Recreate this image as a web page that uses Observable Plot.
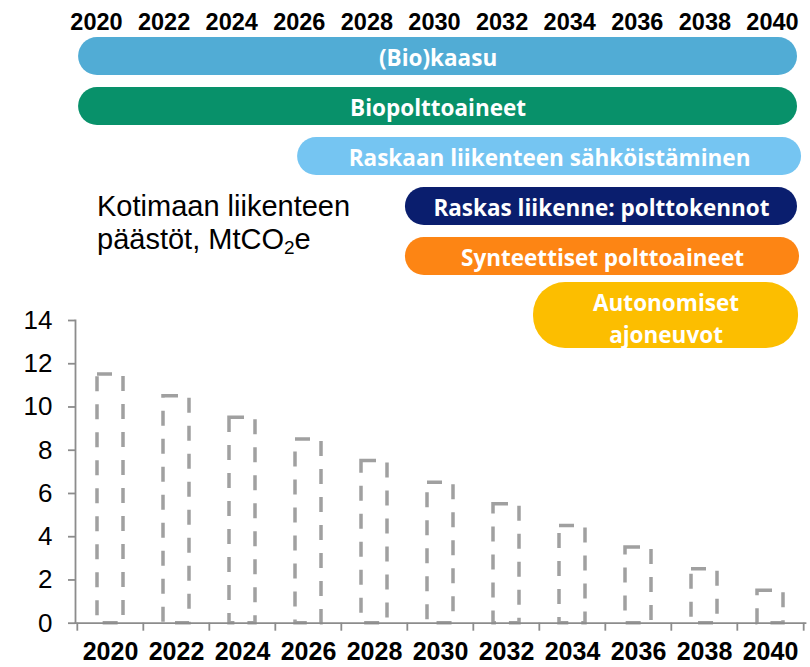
<!DOCTYPE html>
<html>
<head>
<meta charset="utf-8">
<script src="https://cdn.jsdelivr.net/npm/d3@7"></script>
<script src="https://cdn.jsdelivr.net/npm/@observablehq/plot@0.6"></script>
<style>
  html, body { margin: 0; padding: 0; background: #fff; }
  #wrap { position: relative; width: 810px; height: 667px; overflow: hidden; background: #fff;
          font-family: "Liberation Sans", Arial, sans-serif; }
  #wrap svg { position: absolute; left: 0; top: 0; }
  #title { position: absolute; left: 97px; top: 190px; font-size: 29px; line-height: 33px; color: #000;
           font-family: "Liberation Sans", Arial, sans-serif; white-space: nowrap; }
  #title sub { font-size: 19px; line-height: 0; vertical-align: -5px; }
</style>
</head>
<body>
<div id="wrap"><div id="title">Kotimaan liikenteen<br>päästöt, MtCO<sub>2</sub>e</div></div>
<script>
// ---- data ----
const years = [2020, 2022, 2024, 2026, 2028, 2030, 2032, 2034, 2036, 2038, 2040];
const emissions = [11.5, 10.5, 9.5, 8.5, 7.5, 6.5, 5.5, 4.5, 3.5, 2.5, 1.5];
const yTicks = [0, 2, 4, 6, 8, 10, 12, 14];
const topYears = [2020, 2022, 2024, 2026, 2028, 2030, 2032, 2034, 2036, 2038, 2040];

const pillNames = ["(Bio)kaasu", "Biopolttoaineet", "Raskaan liikenteen sähköistäminen",
  "Raskas liikenne: polttokennot", "Synteettiset polttoaineet", "Autonomiset ajoneuvot"];
const pillLabels = ["(Bio)kaasu", "Biopolttoaineet", "Raskaan liikenteen sähköistäminen",
  "Raskas liikenne: polttokennot", "Synteettiset polttoaineet", "Autonomiset\najoneuvot"];
const pillStart = [2019.47, 2019.47, 2025.95, 2029.14, 2029.14, 2032.93];
const pillEnd = [2040.74, 2040.74, 2040.86, 2040.74, 2040.8, 2040.77];
const pillColors = ["#51acd5", "#08916a", "#75c5f2", "#0a1e6e", "#fd8514", "#fcbe00"];

// ---- derived tables ----
const bars = years.map((year, i) => ({year, value: emissions[i]}));
const pills = pillNames.map((name, i) => ({name, label: pillLabels[i], start: pillStart[i], end: pillEnd[i]}));
const tallName = "Autonomiset ajoneuvot";
const pillsSingle = pills.filter(d => d.name !== tallName);
const pillsTall = pills.filter(d => d.name === tallName);

const wrap = document.getElementById("wrap");
const grey = "#8c8c8c";
const sans = "'Liberation Sans', Arial, sans-serif";
const pillFont = "'Open Sans', sans-serif";

// ---- bottom chart: emissions ----
const W = 810, H = 667, mL = 75, mR = 5;
const step = (W - mL - mR) / years.length;

const emissionsChart = Plot.plot({
  width: W, height: H,
  marginTop: 320, marginBottom: 44.3, marginLeft: mL, marginRight: mR,
  style: {background: "none", overflow: "visible"},
  x: {type: "band", domain: years, paddingInner: 0.6, paddingOuter: 0.3},
  y: {domain: [0, 14]},
  marks: [
    Plot.barY(bars, {x: "year", y: "value", fill: "none", stroke: "#a0a0a0",
      strokeWidth: 3.5, strokeDasharray: "15,13"}),
    Plot.frame({anchor: "left", stroke: grey, strokeWidth: 1.8}),
    Plot.frame({anchor: "bottom", stroke: grey, strokeWidth: 1.8}),
    Plot.axisY({ticks: yTicks, tickSize: 7, tickPadding: 16, stroke: grey, strokeWidth: 1.8,
      fill: "black", fontSize: 26, fontFamily: sans, tickFormat: d => String(d), label: null}),
    Plot.axisX({tickSize: 0, tickPadding: 19, fill: "black", fontSize: 25, fontWeight: "bold",
      fontFamily: sans, tickFormat: d => String(d), label: null}),
    Plot.axisX({tickSize: 8, dx: -step / 2, stroke: grey, strokeWidth: 1.8, tickFormat: () => "", label: null}),
    Plot.axisX({ticks: [years[years.length - 1]], tickSize: 8, dx: step / 2, stroke: grey, strokeWidth: 1.8,
      tickFormat: () => "", label: null})
  ]
});
wrap.appendChild(emissionsChart);

// ---- top chart: technology timeline ----
const timelineChart = Plot.plot({
  width: W, height: 352, margin: 0,
  style: {background: "none", overflow: "visible"},
  x: {domain: [2020, 2040], range: [96, 772], axis: null},
  y: {type: "band", domain: pillNames, range: [35.8, 326.2], paddingInner: 0.247, paddingOuter: 0, axis: null},
  color: {domain: pillNames, range: pillColors},
  marks: [
    Plot.text(topYears, {x: d => d, text: d => String(d), frameAnchor: "top", lineAnchor: "top", dy: 12.5,
      fontSize: 23.5, fontWeight: "bold", fontFamily: sans, fill: "black"}),
    Plot.barX(pillsSingle, {x1: "start", x2: "end", y: "name", fill: "name", rx: 19}),
    Plot.barX(pillsTall, {x1: "start", x2: "end", y: "name", fill: "name", rx: 32,
      insetTop: -5, insetBottom: -23}),
    Plot.text(pillsSingle, {x: d => (d.start + d.end) / 2, y: "name", text: "label", dy: 2,
      fill: "white", fontSize: 22.5, fontWeight: "bold", fontFamily: pillFont}),
    Plot.text(pillsTall, {x: d => (d.start + d.end) / 2, y: "name", text: "label", dy: 10,
      lineHeight: 1.42, fill: "white", fontSize: 22.5, fontWeight: "bold", fontFamily: pillFont})
  ]
});
wrap.appendChild(timelineChart);
</script>
</body>
</html>
